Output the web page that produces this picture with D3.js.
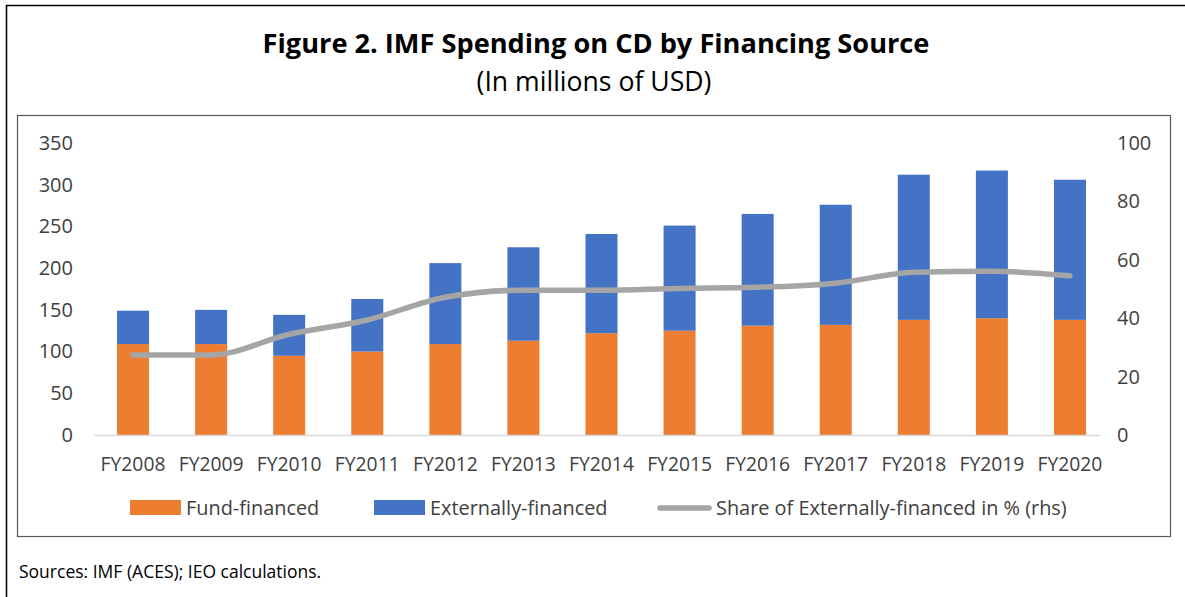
<!DOCTYPE html>
<html>
<head>
<meta charset="utf-8">
<script src="https://cdn.jsdelivr.net/npm/d3@7"></script>
<style>
  body { margin: 0; background: #fff; }
  text { font-family: "Open Sans", "Noto Sans", sans-serif; fill: #404040; }
</style>
</head>
<body>
<script>
// chart data
var years = ["FY2008", "FY2009", "FY2010", "FY2011", "FY2012", "FY2013", "FY2014",
             "FY2015", "FY2016", "FY2017", "FY2018", "FY2019", "FY2020"];
var fundFinanced = [109, 109, 95, 100, 109, 113, 122, 125, 131, 132, 138, 140, 138];
var externallyFinanced = [40, 41, 49, 63, 97, 112, 119, 126, 134, 144, 174, 177, 168];
var shareExternal = [27.4, 27.4, 34.5, 39.4, 47.2, 49.6, 49.6, 50.2, 50.6, 52.0, 55.7, 56.1, 54.5];
var leftTicks = [0, 50, 100, 150, 200, 250, 300, 350];
var rightTicks = [0, 20, 40, 60, 80, 100];

var width = 1185;
var height = 597;

var svg = d3.select("body")
  .append("svg")
  .attr("width", width)
  .attr("height", height);

// outer frame (open at the bottom / right like the screenshot crop)
svg.append("path")
  .attr("d", "M6.5,597 V5.5 H1185")
  .attr("fill", "none")
  .attr("stroke", "#000")
  .attr("stroke-width", 1.5);

// title
svg.append("text")
  .attr("x", 596).attr("y", 53)
  .attr("text-anchor", "middle")
  .style("font-size", "27.2px")
  .style("font-weight", "bold")
  .style("fill", "#000")
  .text("Figure 2. IMF Spending on CD by Financing Source");

svg.append("text")
  .attr("x", 594).attr("y", 91)
  .attr("text-anchor", "middle")
  .style("font-size", "26.6px")
  .style("fill", "#000")
  .text("(In millions of USD)");

// chart box
svg.append("rect")
  .attr("x", 17.5).attr("y", 115.5)
  .attr("width", 1153).attr("height", 421)
  .attr("fill", "#fff")
  .attr("stroke", "#595959")
  .attr("stroke-width", 1.2);

// scales
var x = d3.scaleBand()
  .domain(years)
  .range([94, 1109])
  .paddingInner(0.59)
  .paddingOuter(0.295);

var yLeft = d3.scaleLinear().domain([0, 350]).range([435, 143]);
var yRight = d3.scaleLinear().domain([0, 100]).range([435, 143]);

// axes
var leftAxis = svg.append("g")
  .attr("transform", "translate(73,0)")
  .call(d3.axisLeft(yLeft).tickValues(leftTicks).tickSize(0).tickPadding(0));
leftAxis.select(".domain").remove();

var rightAxis = svg.append("g")
  .attr("transform", "translate(1117,0)")
  .call(d3.axisRight(yRight).tickValues(rightTicks).tickSize(0).tickPadding(0));
rightAxis.select(".domain").remove();

var xAxis = svg.append("g")
  .attr("transform", "translate(0,435)")
  .call(d3.axisBottom(x).tickSize(0).tickPadding(22));
xAxis.select(".domain").remove();

svg.selectAll(".tick text")
  .style("font-size", "20px")
  .style("font-family", "'Open Sans', 'Noto Sans', sans-serif")
  .style("fill", "#404040");
xAxis.selectAll(".tick text").style("font-size", "19.3px");

// stacked bars
var rows = years.map(function(d, i) {
  return {year: d, fund: fundFinanced[i], ext: externallyFinanced[i]};
});

svg.selectAll(".bar-fund")
  .data(rows)
  .enter()
  .append("rect")
  .attr("class", "bar-fund")
  .attr("x", function(d) { return x(d.year); })
  .attr("width", x.bandwidth())
  .attr("y", function(d) { return yLeft(d.fund); })
  .attr("height", function(d) { return yLeft(0) - yLeft(d.fund); })
  .attr("fill", "#ED7D31");

svg.selectAll(".bar-ext")
  .data(rows)
  .enter()
  .append("rect")
  .attr("class", "bar-ext")
  .attr("x", function(d) { return x(d.year); })
  .attr("width", x.bandwidth())
  .attr("y", function(d) { return yLeft(d.fund + d.ext); })
  .attr("height", function(d) { return yLeft(d.fund) - yLeft(d.fund + d.ext); })
  .attr("fill", "#4472C4");

// baseline
svg.append("line")
  .attr("x1", 94).attr("x2", 1100)
  .attr("y1", yLeft(0) + 0.5).attr("y2", yLeft(0) + 0.5)
  .attr("stroke", "#d9d9d9")
  .attr("stroke-width", 1.5);

// share line (rhs), smoothed like Excel
var line = d3.line()
  .x(function(d, i) { return x(years[i]) + x.bandwidth() / 2; })
  .y(function(d) { return yRight(d); })
  .curve(d3.curveMonotoneX);

svg.append("path")
  .datum(shareExternal)
  .attr("d", line)
  .attr("fill", "none")
  .attr("stroke", "#A5A5A5")
  .attr("stroke-width", 5.5)
  .attr("stroke-linecap", "round");

// legend
var legend = svg.append("g");
var legendItems = [
  {label: "Fund-financed", color: "#ED7D31", type: "rect", x: 130},
  {label: "Externally-financed", color: "#4472C4", type: "rect", x: 374},
  {label: "Share of Externally-financed in % (rhs)", color: "#A5A5A5", type: "line", x: 657}
];

legendItems.forEach(function(d) {
  if (d.type === "rect") {
    legend.append("rect")
      .attr("x", d.x).attr("y", 500)
      .attr("width", 51).attr("height", 15)
      .attr("fill", d.color);
  } else {
    legend.append("line")
      .attr("x1", d.x + 3).attr("x2", d.x + 52)
      .attr("y1", 508).attr("y2", 508)
      .attr("stroke", d.color)
      .attr("stroke-width", 5.5)
      .attr("stroke-linecap", "round");
  }
  legend.append("text")
    .attr("x", d.type === "rect" ? d.x + 56 : d.x + 59)
    .attr("y", 515)
    .style("font-size", "19.9px")
    .text(d.label);
});

// source note
svg.append("text")
  .attr("x", 19).attr("y", 578)
  .style("font-size", "17.5px")
  .style("fill", "#000")
  .text("Sources: IMF (ACES); IEO calculations.");
</script>
</body>
</html>
